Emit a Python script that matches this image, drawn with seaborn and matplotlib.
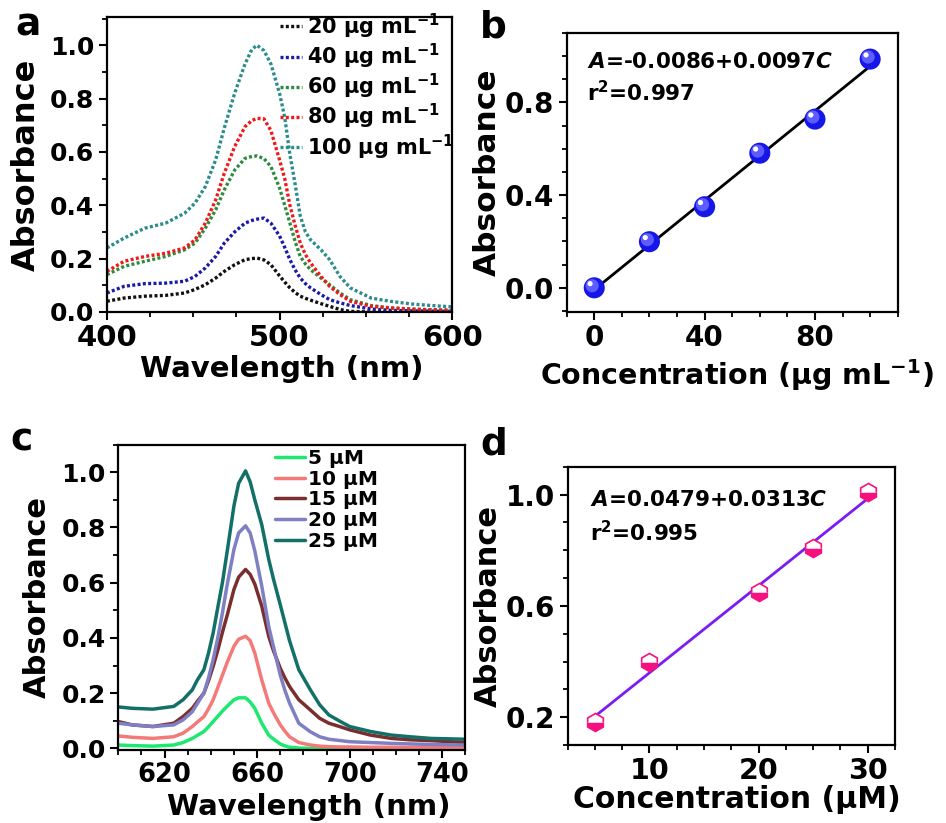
import pandas as pd
import seaborn as sns
import matplotlib.pyplot as plt
from matplotlib.lines import Line2D
from matplotlib.ticker import MultipleLocator, FixedLocator
from matplotlib.transforms import ScaledTranslation

# ---- panel a: spectra for different concentrations (ug/mL) ----
wl_a = [400, 410, 422, 434, 445, 451, 457, 463, 468, 474, 480, 484, 487, 491, 495, 500,
        503, 506, 509, 512, 515, 518, 524, 529, 535, 541, 553, 564, 576, 588, 600]
a_20 = [0.04, 0.052, 0.059, 0.062, 0.071, 0.084, 0.102, 0.127, 0.152, 0.177, 0.196, 0.2, 0.202, 0.195, 0.177, 0.135,
        0.112, 0.09, 0.073, 0.059, 0.051, 0.044, 0.031, 0.021, 0.009, 0.002, 0.0, 0.0, 0.0, 0.0, 0.0]
a_40 = [0.071, 0.096, 0.106, 0.108, 0.115, 0.133, 0.165, 0.208, 0.258, 0.30, 0.333, 0.343, 0.348, 0.352, 0.333, 0.285,
        0.242, 0.196, 0.158, 0.127, 0.106, 0.09, 0.065, 0.046, 0.034, 0.024, 0.011, 0.006, 0.004, 0.003, 0.002]
a_60 = [0.14, 0.171, 0.19, 0.208, 0.233, 0.258, 0.314, 0.383, 0.458, 0.532, 0.576, 0.583, 0.585, 0.575, 0.545, 0.465,
        0.40, 0.333, 0.265, 0.208, 0.18, 0.158, 0.127, 0.102, 0.071, 0.046, 0.024, 0.015, 0.01, 0.008, 0.006]
a_80 = [0.152, 0.19, 0.208, 0.22, 0.24, 0.27, 0.333, 0.42, 0.52, 0.62, 0.695, 0.718, 0.726, 0.724, 0.68, 0.57,
        0.50, 0.40, 0.325, 0.258, 0.215, 0.183, 0.133, 0.096, 0.065, 0.04, 0.021, 0.015, 0.011, 0.008, 0.006]
a_100 = [0.24, 0.277, 0.314, 0.333, 0.37, 0.408, 0.47, 0.57, 0.69, 0.82, 0.93, 0.985, 1.0, 0.98, 0.93, 0.82,
         0.73, 0.59, 0.48, 0.36, 0.30, 0.27, 0.233, 0.196, 0.133, 0.09, 0.052, 0.04, 0.03, 0.024, 0.019]
labels_a = ["20 µg mL$^{-1}$", "40 µg mL$^{-1}$", "60 µg mL$^{-1}$", "80 µg mL$^{-1}$", "100 µg mL$^{-1}$"]
colors_a = ["#111111", "#1a1aa8", "#2e8b3e", "#f01818", "#2a8c8c"]

# ---- panel b: calibration (ug/mL) ----
conc_b = [0, 20, 40, 60, 80, 100]
abs_b = [0.0, 0.199, 0.35, 0.581, 0.728, 0.987]

# ---- panel c: spectra for different concentrations (uM) ----
wl_c = [600, 606, 615, 624, 628, 632, 634, 637, 639, 641, 643, 645, 647, 650, 652, 655, 657, 659,
        662, 665, 667, 670, 672, 674, 678, 683, 687, 691, 696, 700, 709, 718, 726, 735, 750]
c_5 = [0.012, 0.01, 0.008, 0.012, 0.021, 0.036, 0.046, 0.061, 0.078, 0.097, 0.116, 0.135, 0.152, 0.176, 0.183,
       0.183, 0.168, 0.145, 0.091, 0.048, 0.034, 0.016, 0.009, 0.004, 0.001, 0, 0, 0, 0, 0, 0, 0, 0, 0, 0]
c_10 = [0.045, 0.04, 0.036, 0.042, 0.055, 0.079, 0.094, 0.115, 0.143, 0.176, 0.22, 0.265, 0.31, 0.37, 0.395,
        0.406, 0.39, 0.345, 0.248, 0.164, 0.13, 0.085, 0.062, 0.042, 0.021, 0.012, 0.008, 0.006, 0.005, 0.005,
        0.004, 0.004, 0.003, 0.003, 0.003]
c_15 = [0.097, 0.085, 0.079, 0.091, 0.115, 0.145, 0.168, 0.2, 0.245, 0.297, 0.355, 0.42, 0.48, 0.576, 0.62,
        0.648, 0.63, 0.595, 0.515, 0.406, 0.355, 0.29, 0.255, 0.224, 0.176, 0.139, 0.109, 0.091, 0.078, 0.067,
        0.048, 0.036, 0.031, 0.028, 0.021]
c_20 = [0.091, 0.085, 0.079, 0.085, 0.103, 0.133, 0.16, 0.2, 0.255, 0.321, 0.40, 0.49, 0.59, 0.721, 0.78,
        0.806, 0.78, 0.715, 0.588, 0.442, 0.37, 0.265, 0.21, 0.164, 0.091, 0.06, 0.042, 0.033, 0.028, 0.024,
        0.021, 0.018, 0.016, 0.014, 0.012]
c_25 = [0.15, 0.145, 0.142, 0.152, 0.176, 0.212, 0.245, 0.285, 0.345, 0.418, 0.51, 0.60, 0.71, 0.879, 0.96,
        1.005, 0.965, 0.90, 0.81, 0.685, 0.615, 0.52, 0.455, 0.39, 0.285, 0.212, 0.158, 0.121, 0.097, 0.079,
        0.061, 0.048, 0.042, 0.036, 0.033]
labels_c = ["5 µM", "10 µM", "15 µM", "20 µM", "25 µM"]
colors_c = ["#1ee870", "#f47a7a", "#7a2e2e", "#7f7fc4", "#137068"]

# ---- panel d: calibration (uM) ----
conc_d = [5, 10, 20, 25, 30]
abs_d = [0.184, 0.40, 0.649, 0.808, 1.008]


def long_df(x, series, labels):
    parts = [pd.DataFrame({"wl": x, "abs": s, "conc": lab}) for s, lab in zip(series, labels)]
    return pd.concat(parts, ignore_index=True)


def style_axis(ax, xsize, ysize):
    for sp in ax.spines.values():
        sp.set_visible(True)
        sp.set_linewidth(1.6)
        sp.set_color("black")
    ax.tick_params(which="major", direction="out", length=6, width=1.5, colors="black",
                   top=False, right=False)
    ax.tick_params(which="minor", direction="out", length=3.5, width=1.3, colors="black",
                   top=False, right=False)
    ax.tick_params(axis="x", which="major", labelsize=xsize, pad=3)
    ax.tick_params(axis="y", which="major", labelsize=ysize, pad=3)
    for lab in ax.get_xticklabels() + ax.get_yticklabels():
        lab.set_fontweight("bold")


sns.set_theme(style="ticks")
plt.rcParams["font.family"] = ["DejaVu Sans"]
plt.rcParams["font.weight"] = "bold"
plt.rcParams["text.color"] = "black"
plt.rcParams["axes.labelcolor"] = "black"
plt.rcParams["mathtext.fontset"] = "custom"
plt.rcParams["mathtext.rm"] = "DejaVu Sans:bold"
plt.rcParams["mathtext.bf"] = "DejaVu Sans:bold"
plt.rcParams["mathtext.it"] = "DejaVu Sans:bold:italic"
plt.rcParams["mathtext.default"] = "rm"

fig = plt.figure(figsize=(9.46, 8.23), dpi=100)
ax_a = fig.add_axes([0.113, 0.621, 0.365, 0.358])
ax_b = fig.add_axes([0.599, 0.621, 0.350, 0.339])
ax_c = fig.add_axes([0.125, 0.0887, 0.367, 0.371])
ax_d = fig.add_axes([0.600, 0.0948, 0.346, 0.338])

# panel a
df_a = long_df(wl_a, [a_20, a_40, a_60, a_80, a_100], labels_a)
sns.lineplot(data=df_a, x="wl", y="abs", hue="conc", palette=colors_a, hue_order=labels_a,
             lw=2.4, ls=(0, (0.9, 0.7)), errorbar=None, legend=False, ax=ax_a)
ax_a.set_xlim(400, 600)
ax_a.set_ylim(0, 1.105)
ax_a.xaxis.set_major_locator(MultipleLocator(100))
ax_a.xaxis.set_minor_locator(MultipleLocator(25))
ax_a.yaxis.set_major_locator(MultipleLocator(0.2))
ax_a.yaxis.set_minor_locator(MultipleLocator(0.1))
ax_a.yaxis.set_major_formatter(plt.FormatStrFormatter("%.1f"))
ax_a.set_xlabel("Wavelength (nm)", fontsize=21, fontweight="bold")
ax_a.set_ylabel("Absorbance", fontsize=23, fontweight="bold")
style_axis(ax_a, 21, 18)
handles_a = [Line2D([], [], color=c, lw=2.4, ls=(0, (0.9, 0.7))) for c in colors_a]
ax_a.legend(handles_a, labels_a, loc="upper left", bbox_to_anchor=(0.5, 1.02), frameon=False,
            fontsize=15, handlelength=1.1, handletextpad=0.2, labelspacing=0.05,
            borderpad=0, borderaxespad=0)

# panel b
sns.regplot(x=conc_b, y=abs_b, ci=None, scatter=False, truncate=True,
            line_kws={"color": "black", "lw": 2}, ax=ax_b)
sns.scatterplot(x=conc_b, y=abs_b, s=230, color="#1616e6", edgecolor="none", zorder=3, ax=ax_b)
shift1 = ax_b.transData + ScaledTranslation(-1.5 / 72, 1.5 / 72, fig.dpi_scale_trans)
shift2 = ax_b.transData + ScaledTranslation(-3 / 72, 3 / 72, fig.dpi_scale_trans)
ax_b.scatter(conc_b, abs_b, s=90, color="#5c5cff", edgecolor="none", zorder=4, transform=shift1)
ax_b.scatter(conc_b, abs_b, s=14, color="white", edgecolor="none", zorder=5, transform=shift2)
ax_b.set_xlim(-10, 110)
ax_b.set_ylim(-0.104, 1.1)
ax_b.xaxis.set_major_locator(MultipleLocator(40))
ax_b.xaxis.set_minor_locator(MultipleLocator(10))
ax_b.yaxis.set_major_locator(MultipleLocator(0.4))
ax_b.yaxis.set_minor_locator(MultipleLocator(0.1))
ax_b.yaxis.set_major_formatter(plt.FormatStrFormatter("%.1f"))
ax_b.set_xlabel("Concentration (µg mL$^{-1}$)", fontsize=20.5, fontweight="bold")
ax_b.set_ylabel("Absorbance", fontsize=22.5, fontweight="bold")
style_axis(ax_b, 20, 20)
ax_b.text(0.06, 0.93, "$\\mathit{A}$=-0.0086+0.0097$\\mathit{C}$", transform=ax_b.transAxes,
          fontsize=15.5, fontweight="bold", va="top", ha="left")
ax_b.text(0.06, 0.83, "r$^{2}$=0.997", transform=ax_b.transAxes,
          fontsize=15.5, fontweight="bold", va="top", ha="left")

# panel c
df_c = long_df(wl_c, [c_5, c_10, c_15, c_20, c_25], labels_c)
sns.lineplot(data=df_c, x="wl", y="abs", hue="conc", palette=colors_c, hue_order=labels_c,
             lw=2.5, errorbar=None, legend=False, ax=ax_c)
ax_c.set_xlim(600, 750)
ax_c.set_ylim(-0.006, 1.1)
ax_c.xaxis.set_major_locator(FixedLocator([620, 660, 700, 740]))
ax_c.xaxis.set_minor_locator(MultipleLocator(10))
ax_c.yaxis.set_major_locator(MultipleLocator(0.2))
ax_c.yaxis.set_minor_locator(MultipleLocator(0.1))
ax_c.yaxis.set_major_formatter(plt.FormatStrFormatter("%.1f"))
ax_c.set_xlabel("Wavelength (nm)", fontsize=21, fontweight="bold")
ax_c.set_ylabel("Absorbance", fontsize=22, fontweight="bold")
style_axis(ax_c, 18.5, 18)
handles_c = [Line2D([], [], color=c, lw=2.5) for c in colors_c]
ax_c.legend(handles_c, labels_c, loc="upper left", bbox_to_anchor=(0.452, 0.985), frameon=False,
            fontsize=14.5, handlelength=1.5, handletextpad=0.15, labelspacing=0.08,
            borderpad=0, borderaxespad=0)

# panel d
sns.regplot(x=conc_d, y=abs_d, ci=None, scatter=False, truncate=True,
            line_kws={"color": "#7a1cf2", "lw": 2}, ax=ax_d)
sns.lineplot(x=conc_d, y=abs_d, marker="h", ls="none", markersize=13, fillstyle="bottom",
             color="#f5127e", markerfacecolor="#f5127e", markerfacecoloralt="white",
             markeredgecolor="#f5127e", markeredgewidth=1.2, errorbar=None, zorder=3, ax=ax_d)
ax_d.set_xlim(2.5, 32.5)
ax_d.set_ylim(0.1, 1.1)
ax_d.xaxis.set_major_locator(MultipleLocator(10))
ax_d.xaxis.set_minor_locator(MultipleLocator(2.5))
ax_d.yaxis.set_major_locator(FixedLocator([0.2, 0.6, 1.0]))
ax_d.yaxis.set_minor_locator(MultipleLocator(0.1))
ax_d.yaxis.set_major_formatter(plt.FormatStrFormatter("%.1f"))
ax_d.set_xlabel("Concentration (µM)", fontsize=21.5, fontweight="bold")
ax_d.set_ylabel("Absorbance", fontsize=22, fontweight="bold")
style_axis(ax_d, 20.5, 20)
ax_d.text(0.067, 0.915, "$\\mathit{A}$=0.0479+0.0313$\\mathit{C}$", transform=ax_d.transAxes,
          fontsize=15.5, fontweight="bold", va="top", ha="left")
ax_d.text(0.067, 0.81, "r$^{2}$=0.995", transform=ax_d.transAxes,
          fontsize=15.5, fontweight="bold", va="top", ha="left")

# label positions
ax_a.xaxis.set_label_coords(0.506, -0.146)
ax_a.yaxis.set_label_coords(-0.188, 0.5)
ax_b.xaxis.set_label_coords(0.513, -0.161)
ax_b.yaxis.set_label_coords(-0.196, 0.5)
ax_c.xaxis.set_label_coords(0.55, -0.141)
ax_c.yaxis.set_label_coords(-0.19, 0.5)
ax_d.xaxis.set_label_coords(0.518, -0.144)
ax_d.yaxis.set_label_coords(-0.199, 0.5)
for ax in (ax_a, ax_b, ax_c, ax_d):
    ax.xaxis.label.set_va("top")

# panel letters
for letter, x, y in [("a", 15, 36), ("b", 480, 38), ("c", 10, 450), ("d", 480, 455)]:
    fig.text(x / 946, 1 - y / 823, letter, fontsize=27, fontweight="bold", va="baseline", ha="left")

fig.savefig("out.png", dpi=100)
